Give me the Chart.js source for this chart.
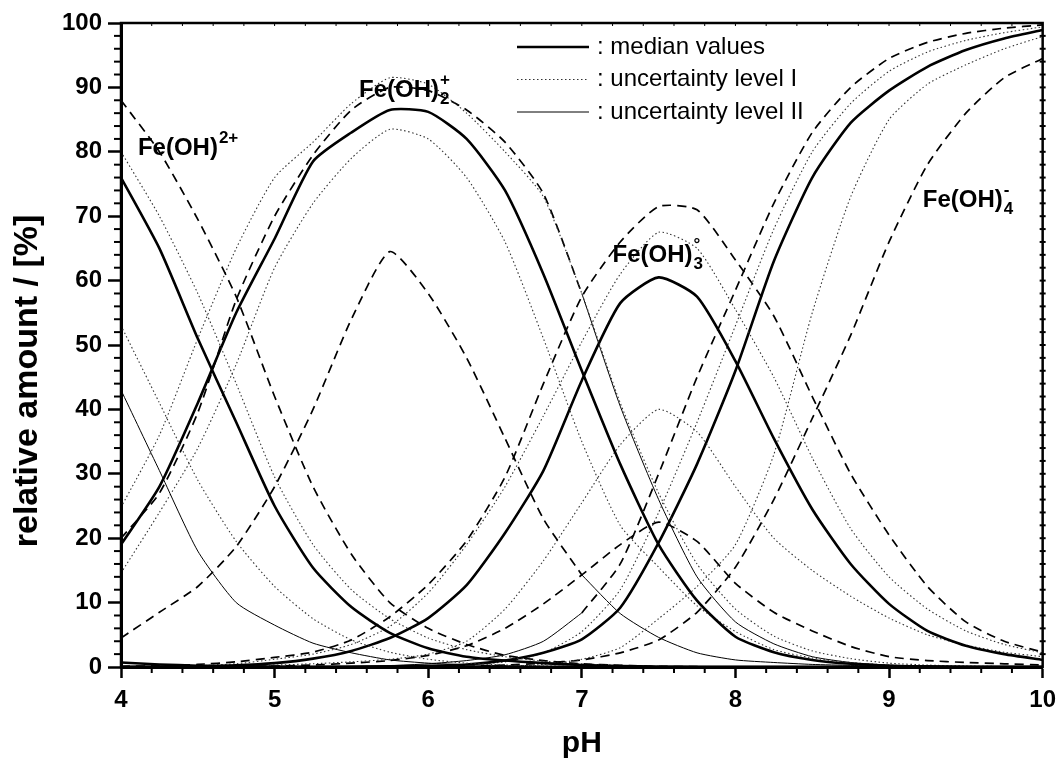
<!DOCTYPE html>
<html>
<head>
<meta charset="utf-8">
<script src="https://cdn.jsdelivr.net/npm/chart.js@4.4.0/dist/chart.umd.min.js"></script>
<style>
html, body { margin: 0; padding: 0; background: #fff; }
</style>
</head>
<body>
<canvas id="chart" width="1064" height="762"></canvas>
<script>
var font = '"Liberation Sans", Arial, sans-serif';

// pH grid
var ph = [4, 4.25, 4.5, 4.75, 5, 5.25, 5.5, 5.75, 6, 6.25, 6.5, 6.75, 7,
          7.25, 7.5, 7.75, 8, 8.25, 8.5, 8.75, 9, 9.25, 9.5, 9.75, 10];

var yTicks = [0, 10, 20, 30, 40, 50, 60, 70, 80, 90, 100];
var xTicks = [4, 5, 6, 7, 8, 9, 10];

// Fe3+ (small at low pH)
var fe3Median = [0.7, 0.4, 0.2, 0.1, 0.05, 0, 0, 0, 0, 0, 0, 0, 0, 0, 0, 0, 0, 0, 0, 0, 0, 0, 0, 0, 0];

// Fe(OH)2+
var a1Median = [76, 65, 51, 38, 25, 15.4, 9.3, 5.3, 2.9, 1.6, 1.0, 0.6, 0.3, 0.15, 0.05, 0, 0, 0, 0, 0, 0, 0, 0, 0, 0];
var a1LevelIHigh = [80, 70, 58, 44, 29.5, 19, 12, 7.5, 4.5, 2.7, 1.6, 0.9, 0.5, 0.25, 0.1, 0.05, 0, 0, 0, 0, 0, 0, 0, 0, 0];
var a1LevelILow = [53, 41, 29, 19.5, 12.5, 7.5, 4.2, 2.3, 1.2, 0.6, 0.3, 0.15, 0.1, 0.05, 0, 0, 0, 0, 0, 0, 0, 0, 0, 0, 0];
var a1LevelIIHigh = [88, 80, 69.5, 57.5, 42, 28, 17.5, 10, 6, 3.5, 1.8, 1.0, 0.5, 0.25, 0.1, 0.05, 0, 0, 0, 0, 0, 0, 0, 0, 0];
var a1LevelIILow = [43, 30.5, 18, 10, 6.5, 3.7, 2.2, 1.1, 0.6, 0.35, 0.2, 0.1, 0.05, 0, 0, 0, 0, 0, 0, 0, 0, 0, 0, 0, 0];

// Fe(OH)2 +
var b2Median = [19, 28, 41, 55, 66.5, 78.5, 83, 86.5, 86.2, 82, 74, 61, 46, 31.5, 19, 10.3, 4.7, 2.3, 1.1, 0.5, 0.2, 0.1, 0, 0, 0];
var b2LevelIHigh = [24.8, 36, 51, 65, 76, 81.5, 87.5, 91.5, 90.5, 86, 80, 73, 58, 41, 27, 16, 9, 4.8, 2.5, 1.3, 0.6, 0.3, 0.15, 0.07, 0.03];
var b2LevelILow = [14.6, 24, 34, 47, 62, 72, 79, 83.5, 82, 76, 66, 51, 35, 22, 15.5, 9.5, 5.5, 2.7, 1.4, 0.7, 0.3, 0.15, 0.05, 0, 0];
var b2LevelIIHigh = [20, 27, 39.5, 57, 70, 79.5, 86.5, 90, 89.5, 86.5, 81.5, 73.5, 58, null, null, null, null, null, null, null, null, null, null, null, null];
var b2LevelIIHighB = [null, null, null, null, null, null, null, null, null, null, null, null, 58, 40.5, 26, 14, 7, 3.6, 1.6, 0.7, 0.3, 0.15, 0.1, 0.05, 0];
var b2LevelIILow = [4.5, 8.5, 12.5, 18.7, 28, 40, 54, 64.5, 58, 48, 35.5, 23, 14.3, null, null, null, null, null, null, null, null, null, null, null, null];
var b2LevelIILowB = [null, null, null, null, null, null, null, null, null, null, null, null, 14.3, 8.3, 4.6, 2.2, 1.1, 0.7, 0.4, 0.25, 0.1, 0.05, 0, 0, 0];

// Fe(OH)3 0
var c3Median = [0, 0.05, 0.1, 0.25, 0.6, 1.3, 2.5, 4.5, 7.6, 12.7, 20.8, 30.5, 44.5, 56.5, 60.5, 57.5, 47.5, 35.5, 24.5, 16, 9.8, 5.6, 3.3, 2.0, 1.1];
var c3LevelIHigh = [0.05, 0.1, 0.2, 0.5, 1.2, 2.0, 3.5, 6.3, 11.5, 19, 28, 39, 50.5, 61, 67.5, 65, 55.5, 45, 32.5, 21.5, 14, 9, 5.6, 3.5, 2.2];
var c3LevelILow = [0, 0, 0.05, 0.1, 0.3, 0.5, 0.8, 1.2, 2.0, 4, 9, 16.5, 25.5, 34.5, 40, 36.5, 28, 20, 15, 11, 7.6, 5, 3.4, 2.3, 1.6];
var c3LevelIIHigh = [0.1, 0.2, 0.4, 0.8, 1.5, 2.3, 4.2, 7.8, 12.8, 19.6, 29.5, 44, 57.5, 66, 71.5, 71, 63.2, 54.5, 42, 30, 20.5, 12.5, 7, 4, 2.3];
var c3LevelIILow = [0, 0, 0.05, 0.1, 0.15, 0.3, 0.6, 1.0, 1.8, 3.3, 6, 9.8, 14.3, 19, 22.5, 19.5, 13, 8.5, 5.6, 3.2, 1.6, 1.0, 0.7, 0.5, 0.3];

// Fe(OH)4 -
var d4Median = [0, 0, 0, 0, 0, 0, 0.05, 0.1, 0.2, 0.4, 1.0, 2.2, 4.3, 9.2, 19.3, 31.5, 46, 63, 76, 84.5, 89.5, 93.2, 95.8, 97.6, 98.9];
var d4LevelIHigh = [0, 0, 0, 0, 0, 0, 0.05, 0.1, 0.2, 0.4, 0.8, 2.2, 5.5, 12, 24, 38, 53, 68, 80, 87.5, 92.5, 95.5, 97.3, 98.5, 99.4];
var d4LevelILow = [0, 0, 0, 0, 0, 0, 0, 0, 0, 0.05, 0.1, 0.4, 1.2, 3, 7.5, 12.5, 19, 33, 55, 73, 85, 90.5, 93.5, 96, 97.9];
var d4LevelIIHighA = [0, 0, 0, 0, 0, 0, 0.1, 0.2, 0.5, 1.0, 1.9, 4.0, 8.4, null, null, null, null, null, null, null, null, null, null, null, null];
var d4LevelIIHigh = [null, null, null, null, null, null, null, null, null, null, null, null, 8.4, 16, 30, 45, 58.5, 72, 83, 90, 94.5, 97, 98.4, 99.2, 99.7];
var d4LevelIILow = [0, 0, 0, 0, 0, 0, 0, 0, 0.05, 0.1, 0.3, 0.6, 1.1, 2.2, 4.2, 8.5, 15.5, 26, 38.6, 51.5, 66, 78, 86, 91.5, 94.5];

var median = { borderWidth: 2.6 },
    levelI = { borderWidth: 1.1, borderDash: [1.5, 2.5], borderColor: "#333" },
    levelII = { borderWidth: 1.7, borderDash: [9, 6] },
    thin = { borderWidth: 1 };

function series(label, values, style) {
    return Object.assign({
        label: label,
        data: ph.map(function (x, i) { return { x: x, y: values[i] }; }),
        borderColor: "#000",
        pointRadius: 0,
        fill: false,
        tension: 0.2,
        spanGaps: false
    }, style);
}

var datasets = [
    series("Fe3+ median", fe3Median, median),
    series("Fe(OH)2+ median", a1Median, median),
    series("Fe(OH)2+ I high", a1LevelIHigh, levelI),
    series("Fe(OH)2+ I low", a1LevelILow, levelI),
    series("Fe(OH)2+ II high", a1LevelIIHigh, levelII),
    series("Fe(OH)2+ II low", a1LevelIILow, thin),
    series("Fe(OH)2 median", b2Median, median),
    series("Fe(OH)2 I high", b2LevelIHigh, levelI),
    series("Fe(OH)2 I low", b2LevelILow, levelI),
    series("Fe(OH)2 II high", b2LevelIIHigh, levelII),
    series("Fe(OH)2 II high b", b2LevelIIHighB, thin),
    series("Fe(OH)2 II low", b2LevelIILow, levelII),
    series("Fe(OH)2 II low b", b2LevelIILowB, thin),
    series("Fe(OH)3 median", c3Median, median),
    series("Fe(OH)3 I high", c3LevelIHigh, levelI),
    series("Fe(OH)3 I low", c3LevelILow, levelI),
    series("Fe(OH)3 II high", c3LevelIIHigh, levelII),
    series("Fe(OH)3 II low", c3LevelIILow, levelII),
    series("Fe(OH)4 median", d4Median, median),
    series("Fe(OH)4 I high", d4LevelIHigh, levelI),
    series("Fe(OH)4 I low", d4LevelILow, levelI),
    series("Fe(OH)4 II high a", d4LevelIIHighA, thin),
    series("Fe(OH)4 II high", d4LevelIIHigh, levelII),
    series("Fe(OH)4 II low", d4LevelIILow, levelII)
];

// species labels: [base, sub, sup, pH, value]
var speciesLabels = [
    ["Fe(OH)", "", "2+", 4.11, 79.5],
    ["Fe(OH)", "2", "+", 5.55, 88.5],
    ["Fe(OH)", "3", "\u00b0", 7.2, 62.9],
    ["Fe(OH)", "4", "-", 9.22, 71.4]
];

var legendItems = [": median values", ": uncertainty level I", ": uncertainty level II"];
var yTitle = "relative amount / [%]";

var decorations = {
    id: "decorations",
    afterDraw: function (chart) {
        var ctx = chart.ctx, a = chart.chartArea,
            xs = chart.scales.x, ys = chart.scales.y;
        ctx.save();
        ctx.strokeStyle = "#000";
        ctx.fillStyle = "#000";

        function seg(x1, y1, x2, y2) {
            ctx.beginPath(); ctx.moveTo(x1, y1); ctx.lineTo(x2, y2); ctx.stroke();
        }

        // frame
        ctx.lineWidth = 2.5;
        ctx.strokeRect(a.left, a.top, a.right - a.left, a.bottom - a.top);

        // minor ticks
        ctx.lineWidth = 2;
        var v, p;
        for (v = 2; v < 100; v += 2) {
            p = ys.getPixelForValue(v);
            if (v % 10) seg(a.left - 7, p, a.left, p);
            seg(a.right - 3, p, a.right + 3, p);
        }
        for (v = 1; v < 30; v++) {
            p = xs.getPixelForValue(4 + v * 0.2);
            if (v % 5) seg(p, a.bottom, p, a.bottom + 6);
            ctx.lineWidth = 1;
            seg(p, a.top, p, a.top + 3);
            ctx.lineWidth = 2;
        }

        // y axis title, sits a bit below the middle as in the original
        ctx.save();
        ctx.translate(28, (a.top + a.bottom) / 2 + 36);
        ctx.rotate(-Math.PI / 2);
        ctx.font = "bold 34px " + font;
        ctx.textAlign = "center";
        ctx.textBaseline = "middle";
        ctx.fillText(yTitle, 0, 0);
        ctx.restore();

        // species labels
        speciesLabels.forEach(function (s) {
            var x = xs.getPixelForValue(s[3]), y = ys.getPixelForValue(s[4]);
            ctx.font = "bold 24px " + font;
            ctx.textBaseline = "alphabetic";
            ctx.textAlign = "left";
            ctx.fillText(s[0], x, y);
            var w = ctx.measureText(s[0]).width;
            ctx.font = "bold 17px " + font;
            if (s[1]) ctx.fillText(s[1], x + w + 1, y + 7);
            if (s[2]) ctx.fillText(s[2], x + w + 1, y - 12);
        });

        // legend
        var styles = [median, levelI, thin];
        legendItems.forEach(function (t, i) {
            var y = a.top + 24 + i * 32.5;
            ctx.lineWidth = styles[i].borderWidth;
            ctx.setLineDash(styles[i].borderDash || []);
            ctx.strokeStyle = styles[i].borderColor || "#000";
            seg(a.left + 396, y, a.left + 468, y);
            ctx.setLineDash([]);
            ctx.font = "24px " + font;
            ctx.textBaseline = "middle";
            ctx.fillText(t, a.left + 476, y);
        });
        ctx.restore();
    }
};

new Chart(document.getElementById("chart").getContext("2d"), {
    type: "line",
    data: { datasets: datasets },
    options: {
        responsive: false,
        animation: false,
        layout: { padding: { top: 23, right: 15, left: 0, bottom: 0 } },
        plugins: { legend: { display: false }, tooltip: { enabled: false } },
        scales: {
            x: {
                type: "linear",
                min: 4,
                max: 10,
                afterBuildTicks: function (s) { s.ticks = xTicks.map(function (v) { return { value: v }; }); },
                ticks: { color: "#000", font: { family: font, size: 24, weight: "bold" }, padding: 8 },
                grid: { drawOnChartArea: false, tickLength: 11, tickWidth: 2.5, tickColor: "#000" },
                border: { color: "#000", width: 3 },
                title: { display: true, text: "pH", color: "#000", font: { family: font, size: 30, weight: "bold" }, padding: { top: 0, bottom: 0 } },
                afterFit: function (s) { s.height = 95; }
            },
            y: {
                min: 0,
                max: 100,
                afterBuildTicks: function (s) { s.ticks = yTicks.map(function (v) { return { value: v }; }); },
                ticks: { color: "#000", font: { family: font, size: 24, weight: "bold" }, padding: 6 },
                grid: { drawOnChartArea: false, tickLength: 13, tickWidth: 2.5, tickColor: "#000" },
                border: { color: "#000", width: 3 },
                afterFit: function (s) { s.width = 121; }
            }
        }
    },
    plugins: [decorations]
});
</script>
</body>
</html>
